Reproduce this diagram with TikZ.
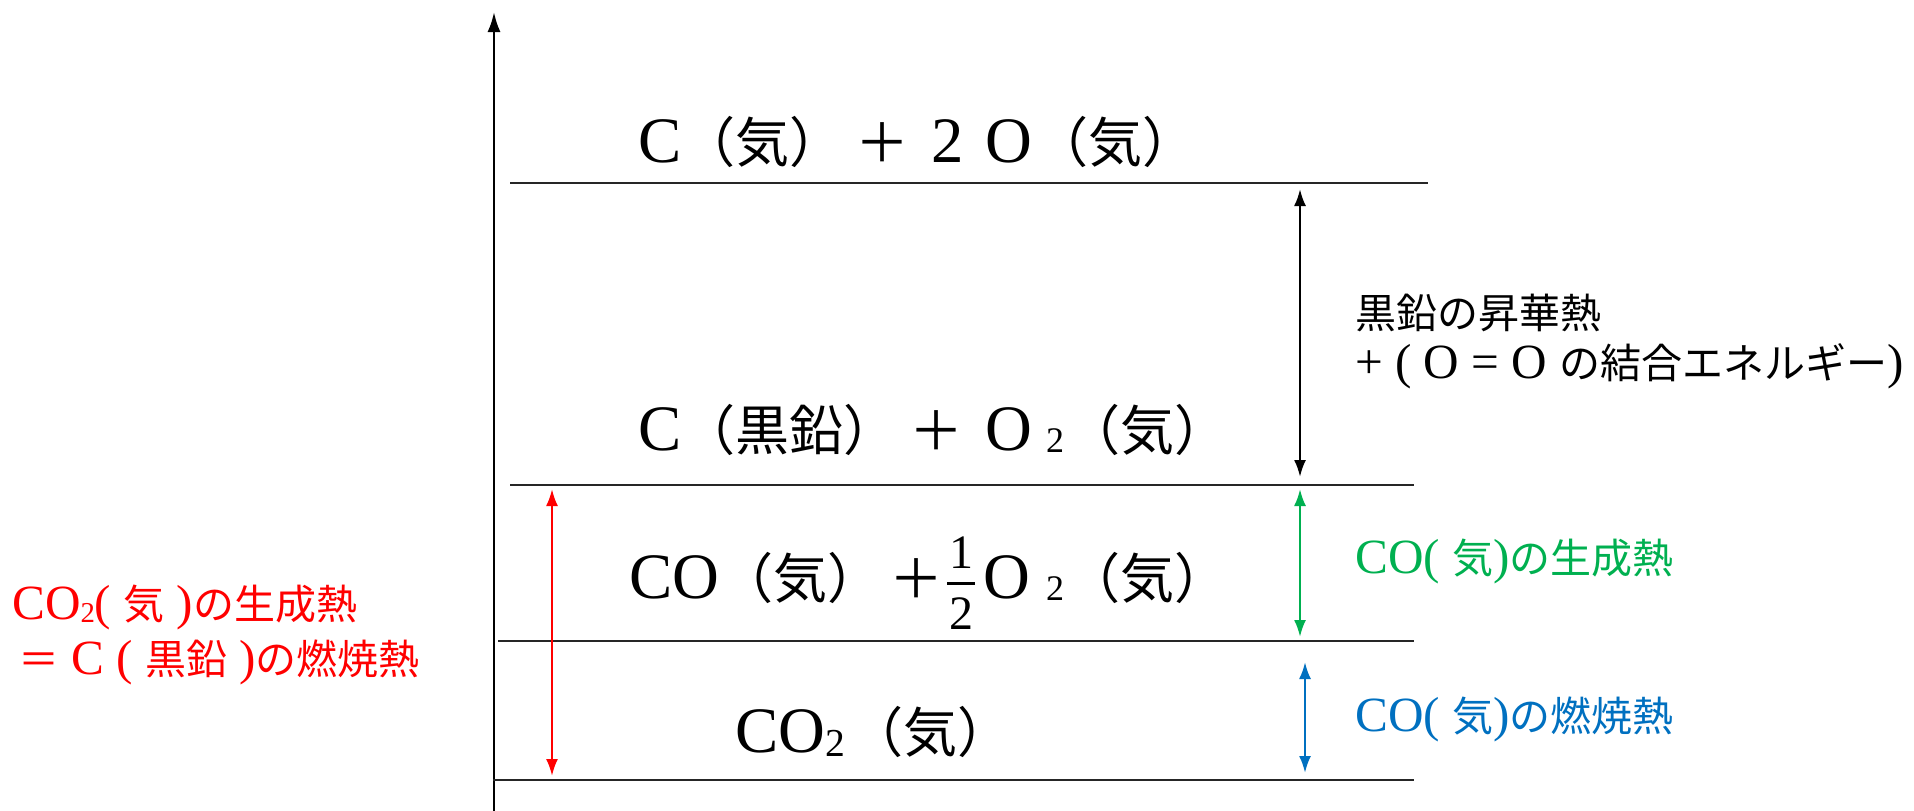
\documentclass[tikz,border=0pt]{standalone}
\usepackage{fontspec}
\setmainfont{Liberation Serif}[Scale=1.2]
\newfontfamily\jp{Noto Sans CJK JP}
\usetikzlibrary{arrows.meta}
\newcommand\J[1]{{\jp #1}}
\newcommand\subB[2]{\raisebox{-#2pt}{\fontsize{#1}{#1}\selectfont 2}}
\newcommand\half{{\fontsize{40}{40}\selectfont
  \hbox to 28pt{\hss\raisebox{30pt}{1}\hss}\kern-28pt
  \hbox to 28pt{\hss\raisebox{-31pt}{2}\hss}\kern-28pt
  \rule[13.5pt]{28pt}{3pt}}}
\definecolor{cgreen}{HTML}{00B050}
\definecolor{cblue}{HTML}{0070C0}
\definecolor{cred}{HTML}{FF0000}
\begin{document}
\begin{tikzpicture}[x=1pt,y=-1pt,
  level/.style={line width=1.6pt, black!85},
  big/.style={font=\fontsize{54}{64}\selectfont, inner sep=0, anchor=base west},
  side/.style={font=\fontsize{41}{50}\selectfont, inner sep=0, anchor=base west},
  dbl/.style={line width=2.4pt, {Latex[length=17pt,width=12pt]}-{Latex[length=17pt,width=12pt]}},
]
\useasboundingbox (0,0) rectangle (1914,811);
% axis
\coordinate (ax0) at (494,811);
\coordinate (ax1) at (494,12);
\draw[line width=2.4pt,-{Latex[length=20pt,width=13pt]}] (ax0) -- (ax1);
% levels
\coordinate (l1a) at (510,183); \coordinate (l1b) at (1428,183);
\coordinate (l2a) at (510,485); \coordinate (l2b) at (1414,485);
\coordinate (l3a) at (498,641); \coordinate (l3b) at (1414,641);
\coordinate (l4a) at (493,780); \coordinate (l4b) at (1414,780);
\draw[level] (l1a) -- (l1b);
\draw[level] (l2a) -- (l2b);
\draw[level] (l3a) -- (l3b);
\draw[level] (l4a) -- (l4b);
% state labels
\node[big] (s1) at (638,162) {C\J{（気）}\hspace{12pt}\J{＋}\hspace{22pt}2\hspace{22pt}O\hspace{2pt}\J{（気）}};
\node[big] (s2) at (638,450) {C\J{（黒鉛）}\hspace{12pt}\J{＋}\hspace{22pt}O\hspace{14pt}\subB{30}{2}\hspace{2pt}\J{（気）}};
\node[big] (s3) at (629,598) {CO\J{（気）}\hspace{8pt}\J{＋}\hspace{4pt}\half\hspace{8pt}O\hspace{16pt}\subB{30}{2}\hspace{2pt}\J{（気）}};
\node[big] (s4) at (735,752) {CO\subB{33}{4}\hspace{4pt}\J{（気）}};
% arrows
\coordinate (k1) at (1300,189); \coordinate (k2) at (1300,477);
\draw[dbl,black] (k1) -- (k2);
\coordinate (g1) at (1300,489); \coordinate (g2) at (1300,637);
\draw[dbl,cgreen] (g1) -- (g2);
\coordinate (b1) at (1305,662); \coordinate (b2) at (1305,773);
\draw[dbl,cblue] (b1) -- (b2);
\coordinate (r1) at (552,489); \coordinate (r2) at (552,776);
\draw[dbl,cred] (r1) -- (r2);
% side labels
\node[side] (h1) at (1355,328) {\J{黒鉛の昇華熱}};
\node[side] (h2) at (1355,378) {+ ( O = O \J{の結合エネルギー})};
\node[side,cgreen] (gl) at (1355,573) {CO( \J{気})\J{の生成熱}};
\node[side,cblue] (bl) at (1355,731) {CO( \J{気})\J{の燃焼熱}};
\node[side,cred] (rl1) at (12,619) {CO\subB{24}{3}( \J{気} )\J{の生成熱}};
\node[side,cred] (rl2) at (18,674) {\J{＝} C ( \J{黒鉛} )\J{の燃焼熱}};
\end{tikzpicture}
\end{document}
